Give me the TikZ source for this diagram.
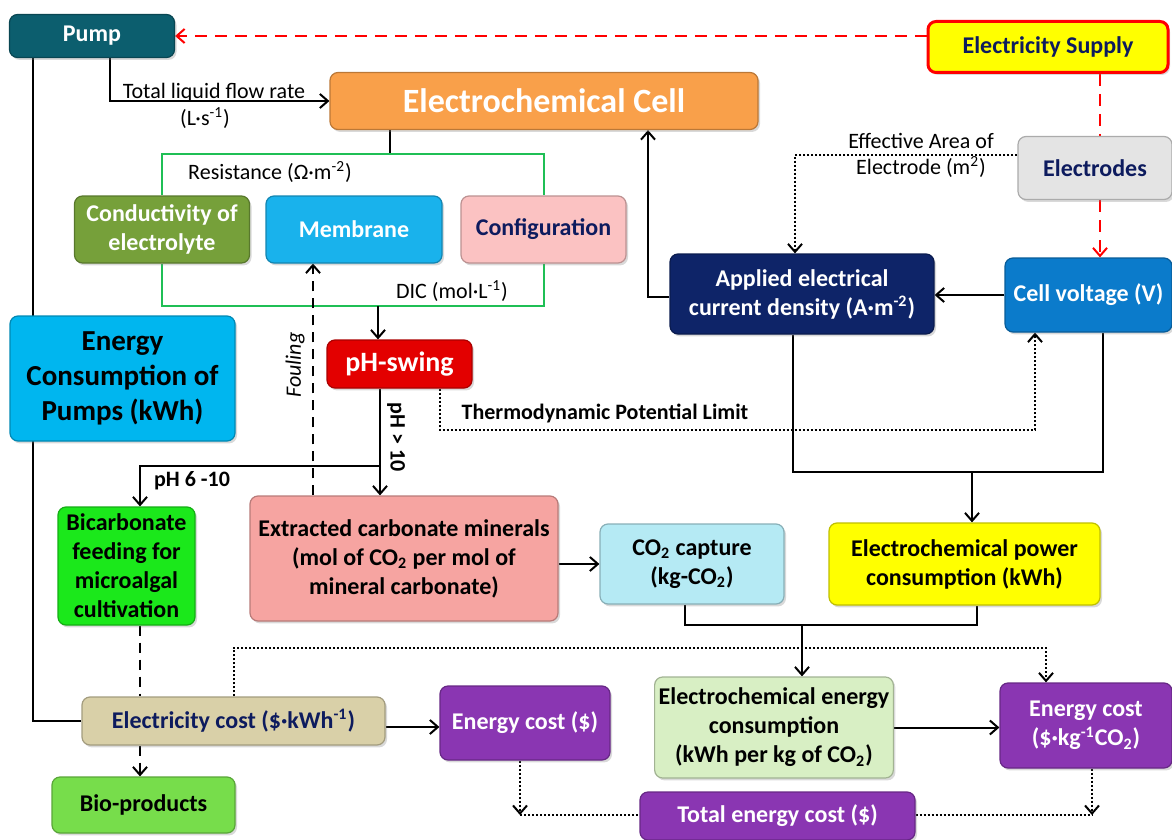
\documentclass[tikz,border=0pt]{standalone}
\usepackage{fontspec}
\setmainfont{Carlito}
\usepackage{tikz}
\usetikzlibrary{
    arrows.meta,
    shadows,
    backgrounds,
    calc,
    positioning
}
\definecolor{pumpteal}{HTML}{0C5E6E}
\definecolor{navytxt}{HTML}{0D1B5E}
\definecolor{supyellow}{HTML}{FFFF00}
\definecolor{cellorange}{HTML}{F9A04A}
\definecolor{elecgray}{HTML}{E4E4E4}
\definecolor{condgreen}{HTML}{76A03A}
\definecolor{membcyan}{HTML}{19B2EC}
\definecolor{confpink}{HTML}{FBC2C2}
\definecolor{applnavy}{HTML}{0E2468}
\definecolor{voltblue}{HTML}{0B7BCB}
\definecolor{pumpsky}{HTML}{00B6EF}
\definecolor{phred}{HTML}{E30000}
\definecolor{bicgreen}{HTML}{1BE81B}
\definecolor{extrsalmon}{HTML}{F6A4A1}
\definecolor{cocyan}{HTML}{B5EAF4}
\definecolor{powyellow}{HTML}{FFFF00}
\definecolor{costtan}{HTML}{D9D0A8}
\definecolor{costpurple}{HTML}{8A36B2}
\definecolor{conspale}{HTML}{D8EFC4}
\definecolor{biogreen}{HTML}{77DD4B}
\definecolor{brackgreen}{HTML}{1FBF55}

\begin{document}
\begin{tikzpicture}[x=0.5pt, y=-0.5pt,
    >={Straight Barb[length=4pt,width=7pt]},
    box/.style={draw=#1!75!black, fill=#1, rounded corners=4pt, line width=0.6pt,
        align=center, inner sep=2pt, font=\bfseries\fontsize{12}{14.5}\selectfont,
        drop shadow={shadow xshift=1pt, shadow yshift=-1.2pt, opacity=0.3}},
    ln/.style={line width=1pt},
    rdash/.style={red, line width=1pt, dash pattern=on 6pt off 4pt},
    kdash/.style={line width=1pt, dash pattern=on 5pt off 3.5pt},
    kdot/.style={line width=1pt, dash pattern=on 1pt off 1pt},
    grn/.style={draw=brackgreen, line width=1pt},
    lbl/.style={font=\fontsize{11}{13}\selectfont, align=center, inner sep=1pt},
    blbl/.style={font=\bfseries\fontsize{11}{13}\selectfont, inner sep=1pt}
]
    \useasboundingbox (0,0) rectangle (1172,840);

    \node[box=pumpteal, text=white, minimum width=82.5pt, minimum height=21.5pt] (pump) at (92,36) {Pump};
    \node[box=supyellow, draw=red, line width=1.5pt, text=navytxt, minimum width=120pt, minimum height=25.5pt] (elsup) at (1048,47) {Electricity Supply};
    \node[box=cellorange, text=white, font=\bfseries\fontsize{17}{20}\selectfont, minimum width=214pt, minimum height=28.5pt] (cell) at (544,101) {Electrochemical Cell};
    \node[box=elecgray, text=navytxt, minimum width=77pt, minimum height=31.5pt] (elec) at (1095,168) {Electrodes};
    \node[box=condgreen, text=white, minimum width=87.5pt, minimum height=33.5pt] (cond) at (162,229.5) {Conductivity of\\electrolyte};
    \node[box=membcyan, text=white, minimum width=88pt, minimum height=33.5pt] (memb) at (354,229.5) {Membrane};
    \node[box=confpink, text=navytxt, minimum width=82.5pt, minimum height=33.5pt] (conf) at (543.5,229.5) {Configuration};
    \node[box=applnavy, text=white, minimum width=132pt, minimum height=40pt] (appl) at (802,294) {Applied electrical\\current density (A·m\textsuperscript{-2})};
    \node[box=voltblue, text=white, minimum width=83.5pt, minimum height=37pt] (cellv) at (1088.5,295) {Cell voltage (V)};
    \node[box=pumpsky, font=\bfseries\fontsize{14.5}{17.5}\selectfont, minimum width=112.5pt, minimum height=62.5pt] (epump) at (122.5,378.5) {Energy\\Consumption of\\Pumps (kWh)};
    \node[box=phred, text=white, font=\bfseries\fontsize{14}{16}\selectfont, minimum width=72.5pt, minimum height=24pt] (phs) at (399.5,364) {pH-swing};
    \node[box=bicgreen, minimum width=68.5pt, minimum height=59pt] (bicarb) at (126.5,566) {Bicarbonate\\feeding for\\microalgal\\cultivation};
    \node[box=extrsalmon, minimum width=154pt, minimum height=62.5pt] (extr) at (404,558.5) {Extracted carbonate minerals\\(mol of CO\textsubscript{2} per mol of\\mineral carbonate)};
    \node[box=cocyan, minimum width=92pt, minimum height=40pt] (co2) at (692,564) {CO\textsubscript{2} capture\\(kg-CO\textsubscript{2})};
    \node[box=powyellow, minimum width=135.5pt, minimum height=41pt] (power) at (964.5,564) {Electrochemical power\\consumption (kWh)};
    \node[box=costtan, text=navytxt, minimum width=151.5pt, minimum height=24pt] (elcost) at (233.5,721) {Electricity cost (\$·kWh\textsuperscript{-1})};
    \node[box=costpurple, text=white, minimum width=85pt, minimum height=37pt] (ecost) at (525,723) {Energy cost (\$)};
    \node[box=conspale, minimum width=109pt, minimum height=50.5pt] (econs) at (774,727.5) {Electrochemical energy\\consumption\\(kWh per kg of CO\textsubscript{2})};
    \node[box=costpurple, text=white, minimum width=86pt, minimum height=42.5pt] (ecostkg) at (1086,725.5) {Energy cost\\(\$·kg\textsuperscript{-1}CO\textsubscript{2})};
    \node[box=biogreen, minimum width=91.5pt, minimum height=28pt] (bio) at (143.5,805) {Bio-products};
    \node[box=costpurple, text=white, minimum width=137.5pt, minimum height=24pt] (total) at (777.5,816) {Total energy cost (\$)};

    \coordinate (gt) at (390,154);
    \coordinate (gb) at (378,306);
    \coordinate (ph) at (380,466);
    \coordinate (bx) at (140,466);
    \coordinate (fx) at (313,0);
    \coordinate (th) at (440,430);
    \coordinate (rx) at (1100,0);
    \coordinate (ax) at (795,155);
    \coordinate (cx) at (648,297);
    \coordinate (vx) at (1035,430);
    \coordinate (pw) at (972,472);
    \coordinate (ec) at (802,625);
    \coordinate (ek) at (1046,648);
    \coordinate (t1) at (520,815);
    \coordinate (t2) at (1092,815);

    \node[lbl] (flowlbl) at (214,93) {Total liquid flow rate};
    \node[lbl] (flowunit) at (205,118) {(L·s\textsuperscript{-1})};
    \node[lbl] (reslbl) at (270,172) {Resistance (Ω·m\textsuperscript{-2})};
    \node[lbl] (diclbl) at (452,291) {DIC (mol·L\textsuperscript{-1})};
    \node[lbl] (arealbl) at (921,155) {Effective Area of\\Electrode (m\textsuperscript{2})};
    \node[blbl, rotate=-90] (phhigh) at (396,437) {pH > 10};
    \node[blbl] (phmid) at (192,481) {pH 6 -10};
    \node[lbl, rotate=90, font=\itshape\fontsize{11}{13}\selectfont] (foul) at (295,365) {Fouling};
    \node[blbl] (thlbl) at (605,413) {Thermodynamic Potential Limit};

    \begin{scope}[on background layer]
        \draw[rdash,->] (elsup.west |- pump.east) -- (pump.east);
        \draw[rdash] (elsup.south -| rx) -- (elec.north -| rx);
        \draw[rdash,->] (elec.south -| rx) -- (cellv.north -| rx);
        \draw[ln,->] ([xshift=9pt]pump.south) |- (cell.west);
        \draw[ln] ([xshift=-29.5pt]pump.south) |- (elcost.west);
        \draw[ln] (cell.south -| gt) -- (gt);
        \draw[grn] (cond.north) |- (gt) -| (conf.north);
        \draw[grn] (cond.south) |- (gb) -| (conf.south);
        \draw[ln,->] (gb) -- (gb |- phs.north);
        \draw[ln,->] (phs.south -| ph) -- (ph |- extr.north);
        \draw[ln,->] (ph) -- (bx) -- (bx |- bicarb.north);
        \draw[kdash,->] (extr.north -| fx) -- (memb.south -| fx);
        \draw[kdot,->] (phs.south -| th) -- (th) -| (cellv.south -| vx);
        \draw[kdot,->] (elec.west |- ax) -- (ax) -- (ax |- appl.north);
        \draw[ln,->] (cellv.west) -- (cellv.west -| appl.east);
        \draw[ln,->] (appl.west |- cx) -- (cx) -- (cx |- cell.south);
        \draw[ln] ([xshift=-4.5pt]appl.south) |- (pw) -| ([xshift=7.25pt]cellv.south);
        \draw[ln,->] (pw) -- (pw |- power.north);
        \draw[ln,->] (extr.east |- co2.west) -- (co2.west);
        \draw[ln] ([xshift=-3.5pt]co2.south) |- (ec) -| ([xshift=6.25pt]power.south);
        \draw[ln,->] (ec) -- (ec |- econs.north);
        \draw[ln,->] ([yshift=-3pt]elcost.east) -- ([yshift=-3pt]elcost.east -| ecost.west);
        \draw[kdot,->] (elcost.north) |- (ek) -- (ek |- ecostkg.north);
        \draw[ln,->] (econs.east) -- (econs.east -| ecostkg.west);
        \draw[kdot,->] (ecost.south -| t1) -- (t1);
        \draw[kdot] (t1) -- (t1 -| total.west);
        \draw[kdot,->] (ecostkg.south -| t2) -- (t2);
        \draw[kdot] (t2 -| total.east) -- (t2);
        \draw[kdash] (bicarb.south -| bx) -- (elcost.north -| bx);
        \draw[kdash,->] (elcost.south -| bx) -- (bio.north -| bx);
    \end{scope}
\end{tikzpicture}
\end{document}
